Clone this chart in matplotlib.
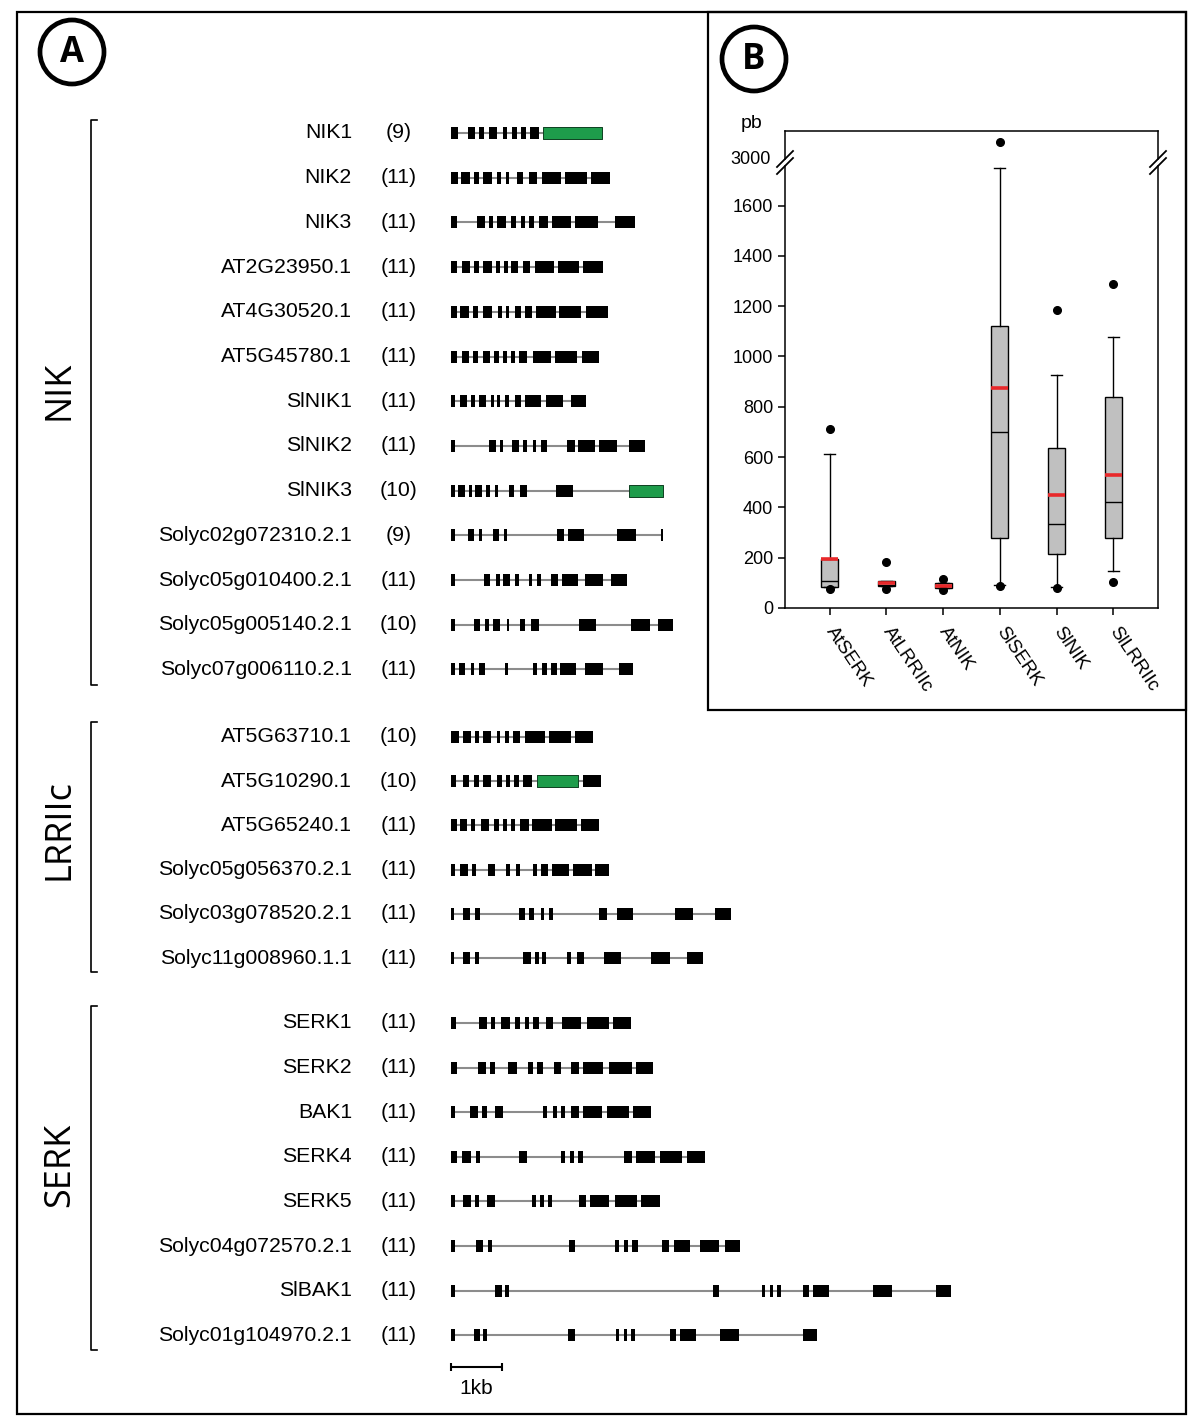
import matplotlib as mpl
import matplotlib.pyplot as plt
from matplotlib.patches import Circle, Rectangle

mpl.rcParams['font.family'] = ['Liberation Sans', 'DejaVu Sans']

W, H = 1200, 1427

# ---------------- Panel A: gene models (exon start/end, bp from gene start) ----------------
nik_names = ["NIK1", "NIK2", "NIK3", "AT2G23950.1", "AT4G30520.1", "AT5G45780.1",
             "SlNIK1", "SlNIK2", "SlNIK3", "Solyc02g072310.2.1", "Solyc05g010400.2.1",
             "Solyc05g005140.2.1", "Solyc07g006110.2.1"]
nik_counts = [9, 11, 11, 11, 11, 11, 11, 11, 10, 9, 11, 10, 11]
nik_exons = [
    [(0, 144), (333, 477), (562, 660), (758, 915), (1020, 1111), (1203, 1294), (1379, 1477), (1556, 1725), (1817, 2967)],
    [(0, 144), (196, 379), (464, 562), (641, 810), (902, 993), (1085, 1150), (1307, 1425), (1529, 1699), (1791, 2170), (2248, 2667), (2752, 3124)],
    [(0, 131), (523, 667), (745, 837), (915, 1085), (1183, 1281), (1373, 1464), (1542, 1641), (1732, 1902), (1987, 2366), (2444, 2889), (3229, 3608)],
    [(0, 118), (216, 379), (458, 562), (641, 810), (889, 967), (1046, 1131), (1190, 1320), (1412, 1556), (1647, 2026), (2105, 2523), (2588, 2993)],
    [(0, 118), (183, 366), (444, 536), (641, 810), (928, 1007), (1085, 1150), (1255, 1386), (1451, 1595), (1673, 2065), (2131, 2549), (2647, 3092)],
    [(0, 118), (222, 366), (444, 536), (627, 771), (850, 941), (1033, 1098), (1176, 1268), (1346, 1503), (1608, 1974), (2052, 2484), (2575, 2915)],
    [(0, 92), (183, 314), (392, 471), (549, 693), (784, 850), (902, 967), (1059, 1150), (1255, 1386), (1464, 1778), (1869, 2209), (2353, 2654)],
    [(0, 92), (758, 889), (967, 1033), (1203, 1333), (1425, 1490), (1608, 1673), (1778, 1882), (2288, 2431), (2497, 2824), (2902, 3255), (3503, 3817)],
    [(0, 78), (144, 275), (353, 418), (484, 614), (693, 771), (863, 928), (1137, 1242), (1359, 1490), (2065, 2392), (3503, 4157)],
    [(0, 92), (340, 458), (549, 614), (824, 954), (1046, 1098), (2078, 2222), (2301, 2614), (3255, 3634), (4118, 4157)],
    [(0, 92), (654, 771), (889, 967), (1033, 1163), (1268, 1333), (1529, 1595), (1686, 1778), (1961, 2105), (2183, 2497), (2627, 2980), (3150, 3464)],
    [(0, 92), (458, 575), (680, 745), (837, 967), (1098, 1150), (1359, 1451), (1582, 1725), (2523, 2850), (3542, 3908), (4065, 4366)],
    [(0, 78), (157, 275), (392, 458), (549, 680), (1059, 1124), (1621, 1686), (1791, 1882), (1961, 2078), (2144, 2458), (2640, 2993), (3307, 3569)],
]

lrr_names = ["AT5G63710.1", "AT5G10290.1", "AT5G65240.1", "Solyc05g056370.2.1",
             "Solyc03g078520.2.1", "Solyc11g008960.1.1"]
lrr_counts = [10, 10, 11, 11, 11, 11]
lrr_exons = [
    [(0, 157), (235, 392), (471, 562), (641, 797), (902, 967), (1059, 1137), (1216, 1359), (1464, 1843), (1922, 2353), (2431, 2797)],
    [(0, 105), (235, 366), (458, 549), (641, 797), (915, 1007), (1085, 1163), (1242, 1333), (1425, 1595), (1699, 2497), (2588, 2941)],
    [(0, 118), (183, 314), (405, 484), (588, 758), (850, 941), (1020, 1098), (1176, 1268), (1359, 1529), (1595, 1987), (2052, 2471), (2549, 2902)],
    [(0, 92), (183, 340), (418, 497), (732, 863), (1085, 1163), (1281, 1359), (1621, 1699), (1765, 1908), (1987, 2327), (2392, 2771), (2824, 3111)],
    [(0, 65), (235, 379), (484, 575), (1333, 1464), (1542, 1634), (1765, 1830), (1922, 2000), (2902, 3059), (3255, 3569), (4392, 4758), (5190, 5490)],
    [(0, 65), (235, 379), (484, 562), (1425, 1569), (1660, 1739), (1791, 1869), (2288, 2366), (2471, 2614), (3007, 3333), (3935, 4301), (4641, 4941)],
]

serk_names = ["SERK1", "SERK2", "BAK1", "SERK4", "SERK5", "Solyc04g072570.2.1",
              "SlBAK1", "Solyc01g104970.2.1"]
serk_counts = [11, 11, 11, 11, 11, 11, 11, 11]
serk_exons = [
    [(0, 105), (549, 706), (784, 876), (993, 1163), (1255, 1359), (1451, 1542), (1608, 1739), (1869, 2013), (2183, 2562), (2667, 3098), (3190, 3542)],
    [(0, 118), (536, 693), (771, 863), (1124, 1294), (1516, 1621), (1699, 1804), (2026, 2170), (2366, 2510), (2601, 2980), (3111, 3556), (3634, 3974)],
    [(0, 92), (379, 536), (614, 706), (876, 1033), (1804, 1895), (2000, 2092), (2157, 2248), (2353, 2510), (2588, 2967), (3059, 3503), (3569, 3935)],
    [(0, 118), (222, 392), (497, 575), (1333, 1503), (2157, 2235), (2340, 2418), (2497, 2601), (3399, 3556), (3634, 4013), (4105, 4536), (4627, 4980)],
    [(0, 92), (235, 392), (471, 549), (706, 863), (1595, 1673), (1752, 1830), (1908, 1987), (2523, 2654), (2732, 3111), (3216, 3647), (3739, 4105)],
    [(0, 92), (497, 627), (732, 810), (2314, 2431), (3229, 3294), (3399, 3477), (3556, 3673), (4144, 4275), (4379, 4693), (4889, 5255), (5386, 5673)],
    [(0, 78), (863, 1007), (1059, 1137), (5137, 5255), (6105, 6170), (6261, 6327), (6405, 6484), (6915, 7033), (7111, 7425), (8288, 8654), (9516, 9804)],
    [(0, 78), (458, 575), (641, 719), (2301, 2431), (3242, 3307), (3399, 3464), (3542, 3621), (4301, 4418), (4497, 4810), (5281, 5660), (6902, 7190)],
]

# exons drawn in green
green_exons = {"NIK1": (1817, 2967), "SlNIK3": (3503, 4157), "AT5G10290.1": (1699, 2497)}

# ---------------- Panel B: intron length box plot (pb) ----------------
box_labels = ["AtSERK", "AtLRRIIc", "AtNIK", "SlSERK", "SlNIK", "SlLRRIIc"]
box_q1 = [85, 88, 80, 277, 216, 277]
box_med = [106, 92, 87, 700, 334, 421]
box_q3 = [194, 107, 98, 1121, 635, 840]
box_lo = [85, 88, 80, 90, 85, 146]
box_hi = [611, 107, 98, 1750, 925, 1079]
box_mean = [194, 99, 87, 876, 449, 529]
box_fliers = [[74, 712], [74, 184], [72, 117], [88, 3065], [80, 1185], [103, 1290]]

# ---------------- layout ----------------
fig = plt.figure(figsize=(W / 100, H / 100), dpi=100)

# decoration axes in pixel units
ad = fig.add_axes([0, 0, 1, 1])
ad.set_xlim(0, W)
ad.set_ylim(H, 0)
ad.axis("off")

# gene axes: x in bp, y in pixels
x0_px, px_per_kb = 450.7, 51.0
ag = fig.add_axes([0, 0, 1, 1])
ag.set_xlim(-x0_px / px_per_kb * 1000, (W - x0_px) / px_per_kb * 1000)
ag.set_ylim(H, 0)
ag.axis("off")
ag.patch.set_alpha(0)

# borders
ad.add_patch(Rectangle((17, 12), 1169, 1402, fill=False, lw=1.6, ec="black"))
ad.add_patch(Rectangle((708, 12), 478, 698, fill=False, lw=1.6, ec="black"))

for cx, cy, letter in [(72, 52, "A"), (754, 59, "B")]:
    ad.add_patch(Circle((cx, cy), 32, fill=False, lw=3.4, ec="black"))
    ad.text(cx, cy + 1, letter, fontsize=25, fontweight="bold", ha="center", va="center",
            family="Open Sans")

groups = [
    ("NIK", nik_names, nik_counts, nik_exons, 133, 44.7, (120, 685), 390),
    ("LRRIIc", lrr_names, lrr_counts, lrr_exons, 737, 44.2, (722, 972), 830),
    ("SERK", serk_names, serk_counts, serk_exons, 1023, 44.6, (1006, 1350), 1165),
]
exon_h = 12
for label, names, counts, exons, y0, step, (b0, b1), ly in groups:
    ad.plot([97, 91, 91, 97], [b0, b0, b1, b1], color="black", lw=1.2)
    ad.text(60, ly, label, fontsize=26, rotation=90, ha="center", va="center",
            family="Open Sans")
    for i, (name, n, ex) in enumerate(zip(names, counts, exons)):
        y = y0 + i * step
        ad.text(352, y, name, fontsize=15.3, ha="right", va="center")
        ad.text(399, y, f"({n})", fontsize=15.3, ha="center", va="center")
        end = max(e for s, e in ex)
        ag.hlines(y, 0, end, color="#8c8c8c", lw=1.5, zorder=1)
        g = green_exons.get(name)
        black = [(s, e - s) for s, e in ex if (s, e) != g]
        ag.broken_barh(black, (y - exon_h / 2, exon_h), facecolors="black", zorder=2)
        if g:
            ag.broken_barh([(g[0], g[1] - g[0])], (y - exon_h / 2, exon_h),
                           facecolors="#1e9c4b", edgecolors="#0d4020", lw=0.7, zorder=2)

# scale bar 1 kb
ag.hlines(1367, 0, 1000, color="black", lw=1.5)
ag.vlines([0, 1000], 1363, 1371, color="black", lw=1.5)
ag.text(500, 1388, "1kb", fontsize=15, ha="center", va="center")

# ---------------- Panel B axes (broken y axis) ----------------
def fax(l, r, t, b):
    return [l / W, 1 - b / H, (r - l) / W, (b - t) / H]

bl, br, btop, bhi_bot, blo_top, bbot = 785, 1158, 131, 159, 166, 608
ax_lo = fig.add_axes(fax(bl, br, blo_top, bbot))
ax_hi = fig.add_axes(fax(bl, br, btop, bhi_bot))

stats = []
for i in range(len(box_labels)):
    stats.append(dict(q1=box_q1[i], med=box_med[i], q3=box_q3[i], whislo=box_lo[i],
                      whishi=box_hi[i], mean=box_mean[i], fliers=box_fliers[i]))

for ax in (ax_lo, ax_hi):
    ax.bxp(stats, positions=range(1, 7), widths=0.3, capwidths=0.19, patch_artist=True,
           showmeans=True, meanline=True,
           boxprops=dict(facecolor="#c0c0c0", edgecolor="black", lw=1.0),
           medianprops=dict(color="black", lw=1.0),
           meanprops=dict(color="#e8282a", lw=2.6, ls="-"),
           whiskerprops=dict(color="black", lw=1.0),
           capprops=dict(color="black", lw=1.0),
           flierprops=dict(marker="o", mfc="black", mec="black", ms=5.5))
    ax.set_xlim(0.21, 6.79)
    ax.patch.set_alpha(0)
    for sp in ax.spines.values():
        sp.set_linewidth(1.1)
    ax.tick_params(direction="out", length=5, width=1.1, labelsize=13)

ax_lo.set_ylim(0, (bbot - blo_top) / 0.2515)
ax_lo.set_yticks(range(0, 1601, 200))
ax_lo.spines["top"].set_visible(False)
ax_lo.set_xticks(range(1, 7))
ax_lo.set_xticklabels(box_labels, rotation=-56, ha="left", va="center",
                      rotation_mode="anchor", fontsize=13.5)
ax_lo.tick_params(axis="x", pad=10)

ax_hi.set_ylim(2996, 2996 + (bhi_bot - btop) / 0.2515)
ax_hi.set_yticks([3000])
ax_hi.set_yticklabels(["3000"])
ax_hi.tick_params(axis="y", length=0, pad=10.5)
ax_hi.spines["bottom"].set_visible(False)
ax_hi.set_xticks([])

# break marks on top of everything
ov = fig.add_axes([0, 0, 1, 1])
ov.set_xlim(0, W)
ov.set_ylim(H, 0)
ov.axis("off")
ov.patch.set_alpha(0)
for bx in (bl, br):
    for yc in (bhi_bot, blo_top):
        ov.plot([bx - 8, bx + 8], [yc + 8, yc - 8], color="black", lw=1.3)

ad.text(752, 124, "pb", fontsize=14, ha="center", va="center")

fig.savefig("out.png", dpi=100)
